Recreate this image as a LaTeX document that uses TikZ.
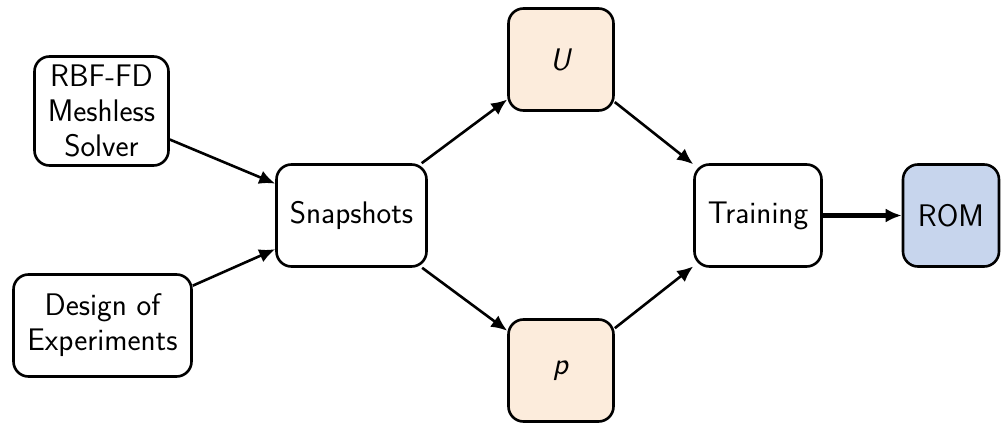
\documentclass[tikz,border=0pt]{standalone}
\usetikzlibrary{arrows.meta}
\definecolor{peach}{RGB}{252,236,220}
\definecolor{rombl}{RGB}{199,213,237}
\begin{document}
\begin{tikzpicture}[x=0.5pt,y=-0.5pt,
  box/.style={draw=black, line width=1.3pt, rounded corners=7.5pt, align=center,
    font=\sffamily\fontsize{15.6}{17.5}\selectfont, inner sep=0pt},
  conn/.style={line width=1.3pt, -{Latex[length=8pt,width=7pt]}},
  thickconn/.style={line width=2.2pt, -{Latex[length=8pt,width=7pt]}}]
\useasboundingbox (0,0) rectangle (1003,423);
\node[box, minimum width=67pt, minimum height=54.5pt] (rbf) at (101.5,111) {RBF-FD\\Meshless\\Solver};
\node[box, minimum width=89pt, minimum height=51pt] (doe) at (102.5,325.5) {Design of\\Experiments};
\node[box, minimum width=75pt, minimum height=51pt] (snap) at (351.5,215.5) {Snapshots};
\node[box, fill=peach, minimum width=52.5pt, minimum height=51pt] (u) at (561,59.5) {\textit{U}};
\node[box, fill=peach, minimum width=52.5pt, minimum height=51pt] (p) at (561,370.5) {\textit{p}};
\node[box, minimum width=63.5pt, minimum height=51pt] (train) at (758,215.5) {Training};
\node[box, fill=rombl, minimum width=48pt, minimum height=51pt] (rom) at (951,215.5) {ROM};
\draw[conn] (rbf) -- (snap);
\draw[conn] (doe) -- (snap);
\draw[conn] (snap) -- (u);
\draw[conn] (snap) -- (p);
\draw[conn] (u) -- (train);
\draw[conn] (p) -- (train);
\draw[thickconn] (train) -- (rom);
\end{tikzpicture}
\end{document}
